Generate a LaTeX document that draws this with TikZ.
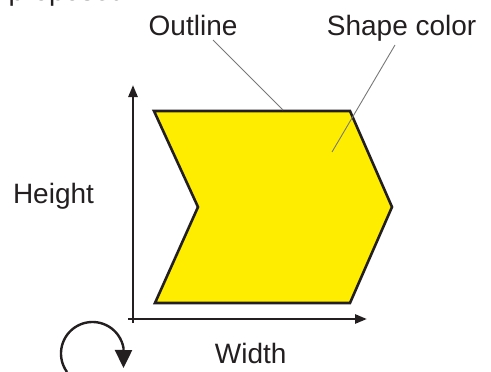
\documentclass[tikz,border=0pt]{standalone}
\usepackage{fontspec}
\setmainfont{Liberation Sans}
\usetikzlibrary{arrows.meta}
\definecolor{ink}{RGB}{35,31,32}
\definecolor{shapeyellow}{RGB}{255,237,0}
\definecolor{leader}{RGB}{120,120,120}
\tikzset{
  lbl/.style={anchor=base west, inner sep=0pt, text=ink, font=\fontsize{28}{32}\selectfont},
  axisline/.style={draw=ink, line width=2.6pt, -{Triangle[length=12pt,width=9pt]}},
  leaderline/.style={draw=leader, line width=0.9pt},
  outlinepoly/.style={draw=ink, fill=shapeyellow, line width=2.6pt, line join=miter},
}
\begin{document}
\begin{tikzpicture}[x=1pt,y=-1pt]
\useasboundingbox (0,0) rectangle (491,372);
% texts
\node[lbl] (prop) at (8.5,1) {proposed.};
\node[lbl] (outl) at (148.5,35) {Outline};
\node[lbl] (scol) at (326.7,35) {Shape color};
\node[lbl] (hgt) at (12.8,203) {Height};
\node[lbl] (wid) at (214.7,363) {Width};
% shape vertices
\coordinate (A) at (154,111);
\coordinate (B) at (350,111);
\coordinate (C) at (392,207);
\coordinate (D) at (350,303);
\coordinate (E) at (155,303);
\coordinate (F) at (198,207);
\path[outlinepoly] (A) -- (B) -- (C) -- (D) -- (E) -- (F) -- cycle;
% axes
\coordinate (vbot) at (133,323);
\coordinate (vtop) at (133,85);
\coordinate (hleft) at (128,319);
\coordinate (hright) at (367,319);
\draw[axisline] (vbot) -- (vtop);
\draw[axisline] (hleft) -- (hright);
% leader lines
\coordinate (o1) at (213,40);
\coordinate (o2) at (283,110);
\coordinate (s1) at (395,45);
\coordinate (s2) at (332,152);
\draw[leaderline] (o1) -- (o2);
\draw[leaderline] (s1) -- (s2);
% rotation arrow
\coordinate (rc) at (92.5,353.5);
\coordinate (rtip) at (123.5,368);
\draw[draw=ink, line width=2.4pt, -{Triangle[length=18pt,width=17pt]}]
  ([shift={(216:31.5pt)}]rc) arc[start angle=216, end angle=10, radius=31.5pt] -- (rtip);
\end{tikzpicture}
\end{document}
